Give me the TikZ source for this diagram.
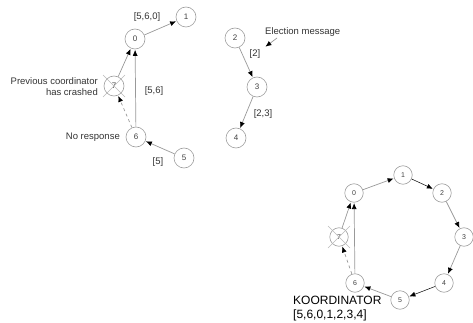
\documentclass[tikz,border=0pt]{standalone}
\usepackage{fontspec}
\setmainfont{Liberation Sans}
\usetikzlibrary{arrows.meta,calc}
\definecolor{edge}{gray}{0.6}
\definecolor{ring}{gray}{0.62}
\tikzset{
  proc/.style={circle,draw=ring,line width=0.6pt,minimum size=20pt,inner sep=0pt,font=\fontsize{8}{9}\selectfont,text=black!75},
  procs/.style={proc,minimum size=18.5pt,font=\fontsize{7}{8}\selectfont},
  msg/.style={draw=edge,line width=0.7pt,-{Latex[length=6pt,width=5pt,black]},shorten >=0.5pt},
  msgk/.style={draw=black,line width=0.5pt,-{Latex[length=6pt,width=5pt,black]},shorten >=0.5pt},
  lbl/.style={font=\fontsize{9.5}{11}\selectfont,text=black!80,inner sep=0pt},
  crossx/.style={draw=gray!55,line width=0.5pt}
}
\begin{document}
\begin{tikzpicture}[x=1pt,y=-1pt]
\useasboundingbox (0,0) rectangle (473,323);
% top-left
\node[proc] (a0) at (135,39) {0};
\node[proc] (a1) at (186,17) {1};
\node[proc] (a7) at (114,86) {7};
\node[proc] (a6) at (136,137) {6};
\node[proc] (a5) at (184,158) {5};
\draw[crossx] ($(a7)+(-11,-11)$) -- ($(a7)+(11,11)$);
\draw[crossx] ($(a7)+(-11,11)$) -- ($(a7)+(11,-11)$);
\draw[msg] (a0) -- (a1);
\draw[msg] (a7) -- (a0);
\draw[msg] (a6) -- (a0);
\draw[msg,dashed] (a6) -- (a7);
\draw[msg] (a5) -- (a6);
\node[lbl] (l560) at (147,17) {[5,6,0]};
\node[lbl,align=right,anchor=east] (lprev) at (98,86.5) {Previous coordinator\\has crashed};
\node[lbl] (l56) at (154,91) {[5,6]};
\node[lbl,anchor=east] (lno) at (120,137) {No response};
\node[lbl] (l5) at (158,162) {[5]};
% top-middle
\node[proc] (b2) at (235,38) {2};
\node[proc] (b3) at (257,87) {3};
\node[proc] (b4) at (236,138) {4};
\draw[msg] (b2) -- (b3);
\draw[msg] (b3) -- (b4);
\node[lbl,anchor=west] (lel) at (265,32) {Election message};
\coordinate (elend) at (265,47);
\coordinate (elstart) at (277,38);
\draw[msg] (elstart) -- (elend);
\node[lbl] (l2) at (255,54) {[2]};
\node[lbl] (l23) at (263,114) {[2,3]};
% bottom-right
\node[procs] (c0) at (354,193) {0};
\node[procs] (c1) at (403,175) {1};
\node[procs] (c2) at (442,193) {2};
\node[procs] (c3) at (464,237) {3};
\node[procs] (c4) at (444,283) {4};
\node[procs] (c5) at (400,300) {5};
\node[procs] (c6) at (355,283) {6};
\node[procs] (c7) at (339,237) {7};
\draw[crossx] ($(c7)+(-11,-11)$) -- ($(c7)+(11,11)$);
\draw[crossx] ($(c7)+(-11,11)$) -- ($(c7)+(11,-11)$);
\draw[msg] (c0) -- (c1);
\draw[msgk] (c1) -- (c2);
\draw[msg] (c2) -- (c3);
\draw[msg] (c3) -- (c4);
\draw[msgk] (c4) -- (c5);
\draw[msg] (c5) -- (c6);
\draw[msg] (c6) -- (c0);
\draw[msg] (c7) -- (c0);
\draw[msg,dashed] (c6) -- (c7);
\node[lbl,font=\fontsize{12}{14}\selectfont,text=black,anchor=north west,align=left] (lk) at (293,296) {KOORDINATOR\\{}[5,6,0,1,2,3,4]};
\end{tikzpicture}
\end{document}
